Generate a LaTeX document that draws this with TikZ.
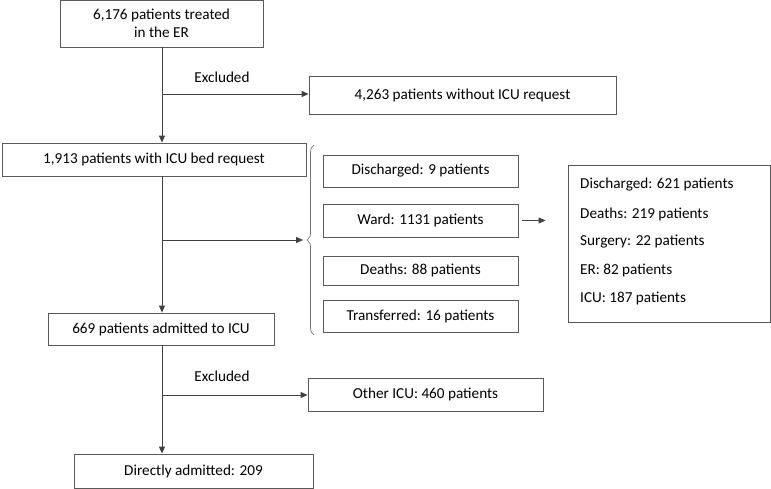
\documentclass[tikz,border=0pt]{standalone}
\usepackage{fontspec}
\setmainfont{Carlito}
\usetikzlibrary{arrows.meta,decorations.pathreplacing}
\begin{document}
\begin{tikzpicture}[x=1pt,y=-1pt,
  every node/.style={font=\fontsize{15.2}{18.5}\selectfont, text=black},
  box/.style={draw=black!65, line width=0.8pt, inner sep=0pt, align=center},
  conn/.style={draw=black!75, line width=0.9pt},
  arr/.style={conn, -{Triangle[length=7pt,width=6pt]}},
  lbl/.style={inner sep=0pt}]
\useasboundingbox (0,0) rectangle (771,489);
% main column
\node[box, minimum width=203pt, minimum height=47pt] (er) at (161.5,23.5) {6,176 patients treated\\in the ER};
\node[box, minimum width=307pt, minimum height=38pt] (noicu) at (462.5,95) {4,263 patients without ICU request};
\node[box, minimum width=304pt, minimum height=33pt] (req) at (154,159.5) {1,913 patients with ICU bed request};
\node[box, minimum width=226pt, minimum height=32pt] (adm) at (161,329) {669 patients admitted to ICU};
\node[box, minimum width=235pt, minimum height=33pt] (oicu) at (425.5,394.5) {Other ICU: 460 patients};
\node[box, minimum width=239pt, minimum height=34pt] (dir) at (193.5,471) {Directly admitted: 209};
% outcome boxes
\node[box, minimum width=195pt, minimum height=32pt] (dis) at (420.5,171) {Discharged: 9 patients};
\node[box, minimum width=195pt, minimum height=33pt] (ward) at (420.5,220.5) {Ward: 1131 patients};
\node[box, minimum width=195pt, minimum height=29pt] (death) at (420.5,270.5) {Deaths: 88 patients};
\node[box, minimum width=195pt, minimum height=32pt] (trans) at (420.5,316) {Transferred: 16 patients};
% ward detail box
\node[box, minimum width=202pt, minimum height=157pt] (wd) at (669,243.5) {};
\node[lbl, anchor=west] (w1) at (580,185) {Discharged: 621 patients};
\node[lbl, anchor=west] (w2) at (580,214) {Deaths: 219 patients};
\node[lbl, anchor=west] (w3) at (580,242) {Surgery: 22 patients};
\node[lbl, anchor=west] (w4) at (580,270) {ER: 82 patients};
\node[lbl, anchor=west] (w5) at (580,298) {ICU: 187 patients};
% labels
\node[lbl] (ex1) at (222,77) {Excluded};
\node[lbl] (ex2) at (222,376) {Excluded};
% coordinates
\coordinate (b1) at (162,94);
\coordinate (b2) at (162,240);
\coordinate (b3) at (162,395);
\coordinate (btip) at (303,240);
\coordinate (btop) at (314,145);
\coordinate (bbot) at (314,335);
% connectors
\draw[arr] (er.south -| b1) -- (req.north -| b1);
\draw[arr] (b1) -- (noicu.west |- b1);
\draw[arr] (req.south -| b2) -- (adm.north -| b2);
\draw[arr] (b2) -- (btip);
\draw[draw=black!55, line width=0.7pt, decorate, decoration={brace, amplitude=7pt}] (bbot) -- (btop);
\draw[arr] ([xshift=4pt]ward.east) -- ([xshift=-22pt]wd.west |- ward.east);
\draw[arr] (adm.south -| b3) -- (dir.north -| b3);
\draw[arr] (b3) -- (oicu.west |- b3);
\end{tikzpicture}
\end{document}
